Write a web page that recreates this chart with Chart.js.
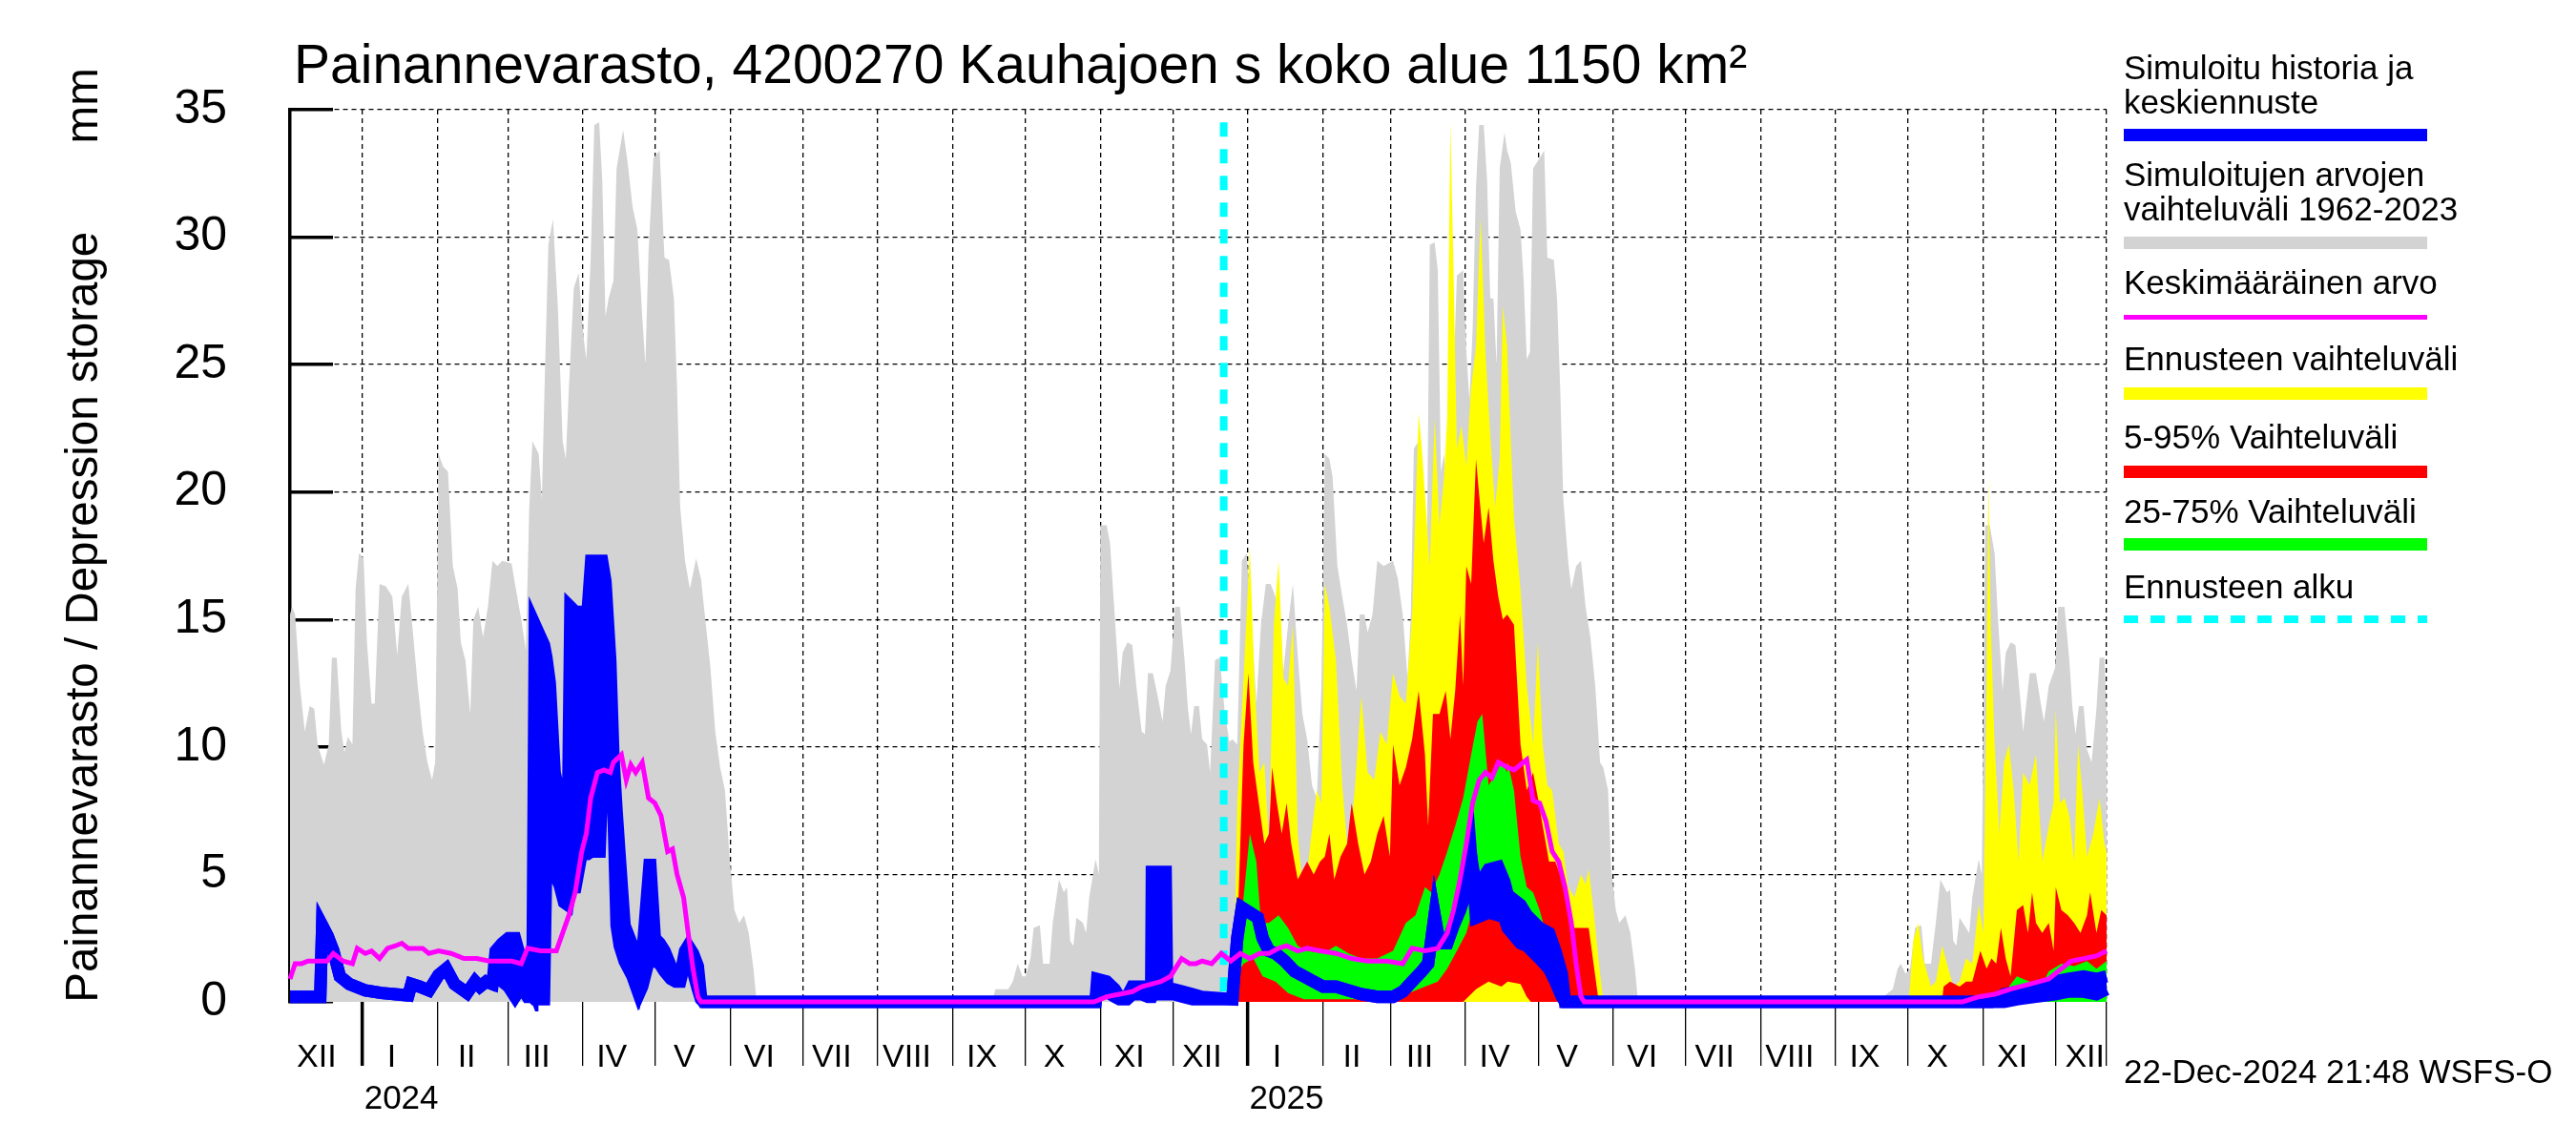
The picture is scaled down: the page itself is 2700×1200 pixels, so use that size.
<!DOCTYPE html>
<html>
<head>
<meta charset="utf-8">
<title>Painannevarasto 4200270</title>
<script src="https://cdn.jsdelivr.net/npm/chart.js@4.4.1/dist/chart.umd.min.js"></script>
<style>
  body { margin: 0; background: #fff; }
  #wrap { position: relative; width: 2700px; height: 1200px; overflow: hidden;
          font-family: 'Liberation Sans', Arial, Helvetica, sans-serif; color: #000; }
  #chart { position: absolute; left: 0; top: 0; }
  .txt { position: absolute; white-space: pre; }
  .lt { left: 2226px; font-size: 35px; line-height: 36px; }
  .bar { position: absolute; left: 2226px; width: 318px; }
</style>
</head>
<body>
<div id="wrap">
  <canvas id="chart" width="2700" height="1200" style="width:2700px;height:1200px"></canvas>
  <div class="txt" style="left:308px;top:39px;font-size:57px;line-height:57px;">Painannevarasto, 4200270 Kauhajoen s koko alue 1150 km²</div>
  <div class="txt" style="left:-414px;top:536px;width:1000px;height:50px;font-size:47.5px;line-height:50px;text-align:center;transform:rotate(-90deg);">Painannevarasto / Depression storage       mm</div>

  <div class="txt lt" style="top:53px">Simuloitu historia ja
keskiennuste</div>
  <div class="bar" style="top:135px;height:13px;background:#0000ff"></div>
  <div class="txt lt" style="top:165px">Simuloitujen arvojen
vaihteluväli 1962-2023</div>
  <div class="bar" style="top:248px;height:13px;background:#d3d3d3"></div>
  <div class="txt lt" style="top:278px">Keskimääräinen arvo</div>
  <div class="bar" style="top:330px;height:5px;background:#ff00ff"></div>
  <div class="txt lt" style="top:358px">Ennusteen vaihteluväli</div>
  <div class="bar" style="top:406px;height:13px;background:#ffff00"></div>
  <div class="txt lt" style="top:440px">5-95% Vaihteluväli</div>
  <div class="bar" style="top:488px;height:13px;background:#ff0000"></div>
  <div class="txt lt" style="top:518px">25-75% Vaihteluväli</div>
  <div class="bar" style="top:564px;height:13px;background:#00ff00"></div>
  <div class="txt lt" style="top:597px">Ennusteen alku</div>
  <div class="bar" style="top:645px;height:8px;background:repeating-linear-gradient(to right,#00ffff 0 15px,transparent 15px 28px)"></div>

  <div class="txt lt" style="top:1105px">22-Dec-2024 21:48 WSFS-O</div>
</div>

<script>
// x values are days counted from 1 Dec 2023
const FONT = "'Liberation Sans', Arial, Helvetica, sans-serif";
const firstDay = 1;
const lastDay = 752;
const forecastStart = 387;

const monthStarts = [0, 31, 62, 91, 122, 152, 183, 213, 244, 275, 305, 336, 366, 397, 428, 456, 487, 517, 548, 578, 609, 640, 670, 701, 731];
const monthLabels = ['XII', 'I', 'II', 'III', 'IV', 'V', 'VI', 'VII', 'VIII', 'IX', 'X', 'XI', 'XII', 'I', 'II', 'III', 'IV', 'V', 'VI', 'VII', 'VIII', 'IX', 'X', 'XI', 'XII'];
const yearStarts = [31, 397];
const yearLabelDays = [47, 413];
const yearLabels = ['2024', '2025'];
const yTicks = [0, 5, 10, 15, 20, 25, 30, 35];

// simulated range 1962-2023 (upper edge, lower edge is 0)
const histMax = [[1,15.2],[1.8,15.5],[3.1,15.2],[5.1,12.4],[7.1,10.6],[9.1,11.6],[11,11.5],[12.4,10.1],[15,9.3],[17,10.1],[18.3,13.5],[20.3,13.5],[22.2,10.6],[23.5,9.8],[24.9,10.4],[26.8,10.1],[28.1,16.2],[29.5,17.6],[31.4,17.4],[32.8,14.1],[34.7,11.7],[36,11.7],[38,16.4],[40.6,16.3],[43.3,15.9],[45.3,13.6],[47.2,15.9],[49.9,16.4],[51.8,14.5],[53.8,12.4],[55.8,10.6],[57.8,9.4],[59.7,8.7],[61,9.4],[62.4,21.5],[64.3,21.0],[66.3,20.8],[68.3,17.1],[70.3,16.2],[71.6,14.1],[73.5,13.4],[75.5,11.3],[76.8,15.0],[78.8,15.5],[80.8,14.3],[82.8,15.5],[84.7,17.3],[86.7,17.1],[88.7,17.3],[92.6,17.2],[94,16.4],[96.6,15.0],[98.5,13.8],[99.9,19.4],[101.2,22.0],[103.8,21.5],[105.1,19.7],[106.4,24.8],[107.8,29.7],[109.7,30.7],[111.7,27.3],[113.7,22.0],[115,21.3],[116.3,24.1],[118.3,28.0],[120.3,28.6],[122.2,26.2],[123.5,25.2],[125.3,29.2],[126.8,34.4],[128.8,34.5],[130.1,32.2],[131.4,26.9],[132.7,27.6],[134.7,28.3],[136,32.7],[138.7,34.2],[140.6,32.9],[142.6,31.2],[144.6,30.3],[146.6,26.9],[147.9,25.0],[149.2,29.4],[151.2,33.1],[153.8,33.4],[155.8,29.2],[157.7,29.1],[159.7,27.6],[161,24.1],[162.3,19.4],[164.3,17.3],[166.3,16.2],[168.9,17.4],[170.9,16.6],[172.9,14.8],[174.8,13.1],[176.8,10.6],[178.8,9.2],[180.8,8.3],[182.7,5.7],[184.7,3.6],[186.7,3.1],[188.7,3.4],[190.6,2.7],[192.6,1.3],[193.9,0],
  [291.3,0],[292.6,0.5],[297.9,0.5],[299.8,0.8],[301.8,1.5],[303.8,1.0],[305.1,1.0],[307.1,1.7],[308.4,2.9],[311,3.0],[312.3,1.5],[315,1.5],[316.3,3.1],[318.9,4.8],[320.9,4.3],[322.2,4.5],[323.5,2.4],[324.8,2.2],[326.1,3.3],[328.8,3.1],[330.1,2.7],[331.4,4.1],[334,5.6],[335.4,5.0],[336,18.7],[338.6,18.7],[340,18.0],[341.9,15.2],[343.9,12.3],[345.2,13.7],[347.2,14.1],[349.2,14.0],[351.1,12.2],[353.1,10.6],[354.4,10.5],[355.7,12.9],[357.7,12.9],[359.7,12.0],[361.7,11.0],[363,12.4],[365,13.0],[366.9,15.5],[368.9,15.5],[370.9,13.3],[372.2,11.5],[373.5,10.5],[374.8,11.6],[376.8,11.6],[378.1,10.3],[380.1,10.1],[381.4,9.0],[383.4,13.4],[385.3,13.5],[387.3,11.5],[389.3,10.2],[390.6,10.3],[392.6,10.1],[394.5,17.3],[396.5,17.6],[398.5,14.8],[400.5,11.7],[402.4,14.8],[404.4,16.4],[406.4,16.4],[408.4,15.9],[410.3,14.2],[411.7,13.0],[413.6,14.8],[415.6,16.4],[417.6,13.6],[419.5,11.3],[421.5,10.3],[423.5,8.5],[425.5,8.0],[427.4,12.4],[428.8,21.5],[430.7,21.3],[432,20.6],[434,17.1],[436,15.9],[438,14.8],[439.9,13.4],[441.9,12.2],[443.2,15.2],[445.2,15.2],[446.5,14.5],[448.5,15.2],[450.5,17.3],[453.1,17.1],[457,17.3],[459,16.6],[461,15.2],[463,12.7],[464.3,15.0],[465.6,21.7],[467.6,22.0],[469.5,20.6],[470.9,16.6],[472.2,29.7],[474.2,29.8],[475.5,28.7],[476.8,20.8],[478.1,21.5],[479.4,19.9],[481.4,22.7],[483.4,28.5],[486,28.7],[487.3,25.5],[488.6,23.6],[489.9,26.4],[491.3,32.0],[492.6,34.4],[494.5,34.4],[495.9,32.2],[497.2,27.6],[498.5,27.6],[499.8,25.0],[501.1,32.7],[503.1,34.1],[504.2,33.4],[505.7,32.9],[507.7,31.0],[509.7,30.3],[511,28.3],[512.3,25.2],[513.6,25.5],[514.9,32.7],[517.6,33.1],[519.5,33.4],[520.8,29.2],[523.5,29.1],[524.8,27.6],[526.1,24.1],[527.4,19.7],[529.4,17.3],[530.7,16.2],[532.7,17.1],[534.7,17.3],[536.6,15.5],[538.6,14.3],[540.6,12.4],[542.6,9.4],[543.9,9.2],[545.9,8.3],[547.2,5.2],[549.1,3.6],[550.5,3.1],[553.1,3.4],[555.1,2.7],[557,1.3],[558.3,0],
  [657,0],[663.6,0.5],[665.6,1.3],[666.9,1.5],[668.9,1.1],[670.8,1.3],[672.8,2.9],[675.4,3.0],[676.8,1.5],[679.4,1.5],[681.4,3.1],[683.3,4.8],[686,4.3],[687.3,4.4],[688.6,2.4],[689.9,2.2],[691.2,3.3],[693.9,2.9],[695.2,2.7],[696.5,4.1],[699.1,5.6],[700.4,5.0],[701.8,18.7],[703.7,18.7],[705.7,17.6],[707,15.2],[709,12.2],[710.3,13.7],[712.3,14.1],[714.3,14.0],[716.2,12.0],[717.5,10.6],[720.2,12.9],[722.8,12.9],[724.8,11.7],[726.1,11.0],[728.1,12.4],[730.7,13.1],[732,15.5],[734.6,15.5],[736.6,13.4],[737.9,11.5],[739.2,10.5],[740.5,11.6],[742.5,11.6],[743.9,9.9],[745.8,9.4],[747.8,11.5],[749.1,13.5],[751.1,13.5],[752,11.3]];

// mean of simulated values
const meanLine = [[1,0.9],[3.1,1.5],[5.8,1.5],[8.4,1.6],[11,1.6],[13.7,1.6],[16.3,1.6],[18.9,1.9],[22.9,1.6],[26.8,1.5],[28.8,2.1],[32.1,1.9],[34.7,2.0],[38,1.7],[41.3,2.1],[44.6,2.2],[47.2,2.3],[49.9,2.1],[53.1,2.1],[55.8,2.1],[58.4,1.9],[62.4,2.0],[67.6,1.9],[72.9,1.7],[78.1,1.7],[83.4,1.6],[88.7,1.6],[92.6,1.6],[96.6,1.5],[99.2,2.1],[104.5,2.0],[111.1,2.0],[113.7,2.7],[116.3,3.4],[118.9,4.3],[121.6,5.9],[123.5,6.6],[125.3,8.0],[128.1,9.0],[130.8,9.1],[133.4,9.0],[134.7,9.4],[138,9.7],[140,8.7],[141.9,9.3],[143.9,9.0],[146.6,9.4],[149.2,8.0],[151.8,7.8],[154.4,7.3],[157.1,5.9],[159.1,6.0],[161,5.0],[163.7,4.1],[165.6,2.7],[167.6,1.3],[169.6,0.2],[170.9,0],[333.4,0],[338.6,0.2],[343.9,0.3],[349.2,0.4],[353.1,0.6],[357.1,0.7],[361,0.8],[365,1.0],[367.6,1.4],[369.6,1.7],[372.9,1.5],[375.5,1.5],[378.1,1.6],[382,1.5],[386,1.9],[389.9,1.6],[393.9,1.9],[397.8,1.7],[401.8,1.9],[405.7,1.9],[409.7,2.1],[413,2.2],[417.6,2.0],[421.5,2.1],[426.8,2.0],[433.4,1.9],[439.9,1.7],[446.5,1.6],[454.4,1.6],[461,1.5],[464.9,2.1],[470.2,2.0],[475.5,2.1],[479.4,2.7],[482,3.6],[484.7,4.8],[487.3,6.2],[489.9,7.8],[492.6,8.7],[495.2,9.0],[497.9,8.8],[500.5,9.4],[504.4,9.2],[507,9.1],[509.7,9.3],[512.3,9.5],[514.9,7.9],[517.6,7.8],[520.2,7.1],[522.8,5.9],[525.5,5.5],[528.1,4.5],[530.7,3.1],[532.7,1.5],[534.7,0.2],[536,0],[692.5,0],[699.1,0.2],[705.7,0.3],[712.3,0.5],[720.2,0.7],[728.1,0.9],[733.3,1.3],[737.3,1.6],[742.5,1.7],[747.8,1.8],[752,2.0]];

// simulated history + median forecast: [day, upper, lower] of the thick blue trace
const simLine = [[1,0.2,0.2],[13.5,0.2,0.2],[14.3,3.0,3.0],[16.5,2.6,2.6],[18.9,2.0,2.0],[21.6,1.0,1.0],[25.5,0.7,0.7],[32.1,0.45,0.45],[38.7,0.35,0.35],[49.9,0.25,0.25],[51.2,0.7,0.7],[54.5,0.6,0.6],[58.4,0.45,0.45],[62.4,1.05,1.05],[65.6,1.3,1.3],[69,0.7,0.7],[74.2,0.35,0.35],[77.5,0.8,0.8],[79.5,0.6,0.6],[82.1,0.8,0.8],[84.7,0.7,0.7],[86,2.0,0.9],[88.7,2.3,0.8],[91.3,2.5,0.6],[94,2.5,0.2],[96.6,1.6,0.6],[99.2,1.1,0.2],[101.2,0.6,0.2],[102.2,14.8,0.1],[106,14.0,0.1],[107,13.5,6.0],[108.4,12.5,5.8],[110.4,9.0,5.0],[112.4,8.1,4.6],[114.3,7.1,3.9],[115.8,6.5,3.8],[116.9,15.5,4.5],[119,15.3,4.5],[121.5,15.3,5.8],[124,15.3,5.8],[125.5,17.3,5.9],[129,17.3,5.9],[130,17.3,8.5],[131.4,16.5,8.3],[133.4,13.4,8.0],[134.7,9.6,7.5],[136,7.5,3.0],[137.3,5.7,2.2],[139.3,3.0,1.6],[142.6,2.2,1.0],[145.2,1.0,0.3],[146.6,1.8,0.6],[149.8,5.6,1.8],[151.8,2.5,1.6],[153.8,2.3,1.5],[155.8,2.0,1.2],[158.4,1.4,0.9],[160.4,1.0,0.8],[162.3,1.0,0.8],[164.3,2.0,1.6],[165.6,2.2,1.8],[167.6,1.9,1.2],[169.6,1.4,0.5],[170.9,0.2,0.1],[172,0,0],[334,0,0],[334.7,0.9,0.5],[338.6,0.8,0.4],[341.9,0.5,0.2],[343.9,0.2,0.1],[347,0.2,0.1],[349.2,0.6,0.3],[353.1,0.6,0.3],[355.7,0.3,0.2],[357,0.3,0.2],[357.3,5.1,0.3],[363,5.1,0.3],[363.6,0.5,0.3],[366.3,0.5,0.3],[370.2,0.4,0.2],[374.2,0.3,0.1],[377.9,0.2,0.1],[390.6,0.1,0.1],[391.3,1.0,1.0],[392.6,2.5,2.5],[394.5,3.7,3.7],[397.8,3.5,3.5],[401.1,3.3,3.3],[403.1,2.5,2.5],[405.7,2.0,2.0],[408.4,1.9,1.9],[412.3,1.6,1.6],[416.3,1.2,1.2],[420.2,1.0,1.0],[424.2,0.8,0.8],[428.1,0.6,0.6],[433.4,0.6,0.6],[438.6,0.45,0.45],[443.9,0.3,0.3],[450.5,0.2,0.2],[457,0.2,0.2],[461,0.4,0.4],[464.9,0.8,0.8],[468.9,1.2,1.2],[471.5,1.5,1.5],[474.2,3.4,3.4],[476.2,2.3,2.3],[479.4,2.3,2.3],[482,3.0,3.0],[484.7,3.6,3.6],[487.3,4.4,4.4],[489.3,5.7,5.7],[491.3,4.5,3.3],[493.9,4.8,3.4],[496.5,5.2,3.5],[500.5,5.3,3.4],[503.1,4.7,3.3],[504.4,4.2,2.9],[509.7,3.8,2.3],[512.3,3.4,2.2],[517.6,2.9,1.7],[521.5,2.7,1.3],[524.1,2.0,0.8],[526.8,1.1,0.2],[528.1,0,0],[704.4,0,0],[709.6,0.3,0.0],[714.9,0.4,0.1],[722.8,0.5,0.2],[730.7,0.8,0.3],[736,0.9,0.4],[742.5,1.0,0.4],[747.8,0.9,0.3],[752,1.0,0.5]];

// forecast ensemble
const fcMax = [[391,0],[392.6,7.8],[394.5,11.3],[397.8,17.8],[399.8,12.4],[401.8,9.0],[403.8,9.4],[405.7,6.2],[407.7,14.8],[409.7,17.3],[411.7,12.7],[413.6,12.4],[415.6,14.8],[417.6,6.6],[420.2,3.8],[422.8,6.2],[425.5,8.3],[427.4,7.8],[428.8,16.4],[430.7,15.5],[433.4,13.4],[436,8.5],[438.6,5.5],[441.3,8.5],[443.9,12.0],[446.5,9.0],[449.2,8.7],[451.8,10.6],[454.4,10.1],[457,12.9],[459.7,12.0],[462.3,11.7],[464.9,15.2],[467.6,23.1],[468.9,21.7],[470.2,19.9],[472.2,17.1],[474.2,22.9],[476.2,18.7],[478.1,20.6],[479.4,22.9],[480.7,34.5],[482,28.7],[483.4,21.7],[485.3,22.6],[487.3,21.0],[489.3,24.1],[491.3,25.7],[493.2,30.8],[495.2,25.5],[497.2,22.2],[499.2,19.4],[501.1,21.3],[502.4,27.3],[504.2,25.7],[504.4,25.0],[507,19.0],[509.7,16.2],[512.3,12.4],[514.9,10.1],[516.9,14.1],[518.9,10.1],[520.8,8.5],[522.8,8.3],[525.5,6.2],[527.4,5.9],[529.4,4.5],[532,4.1],[534.7,5.0],[536.6,4.6],[537.9,5.2],[539.9,3.6],[541.9,1.7],[543.9,0],[670.2,0],[672.1,2.4],[674.1,3.1],[676.1,1.7],[679.4,0.6],[681.4,0.8],[684,2.2],[686,1.5],[688.6,0.6],[691.2,0.8],[693.9,1.7],[696.5,1.5],[699.1,3.8],[701.1,2.7],[702.4,12.4],[703.1,20.6],[704.1,14.8],[705.7,10.1],[707.7,6.6],[709.6,9.4],[711.6,10.1],[713.6,8.3],[715.6,5.5],[717.5,9.0],[720.2,8.5],[722.8,9.7],[725.4,5.5],[728.1,6.9],[730.1,7.8],[731,11.5],[732.7,7.8],[734.6,8.0],[736.6,7.3],[738.6,5.5],[740.2,10.1],[741.9,8.3],[743.9,5.7],[746.5,6.6],[749.1,8.0],[751.1,6.2],[752,5.9]];
const fcP95 = [[391,0],[393.2,4.3],[395.2,10.1],[397.2,12.9],[399.2,9.4],[401.8,7.6],[403.8,6.2],[405.7,6.6],[407,9.2],[409,7.8],[411,6.6],[413,7.8],[414.9,6.2],[417.6,4.8],[421.5,5.5],[424.2,5.0],[426.8,5.5],[428.8,5.7],[430.7,6.6],[432.7,4.8],[435.3,5.7],[438,6.2],[439.9,7.8],[442.6,6.2],[445.2,5.0],[447.8,5.5],[450.5,6.6],[453.1,7.3],[455.7,5.7],[457,10.1],[459.7,8.5],[462.3,9.2],[464.9,10.3],[467.6,12.2],[470.2,9.7],[471.5,6.9],[473.5,11.3],[476.2,11.3],[478.8,12.2],[480.7,10.3],[482.7,12.2],[484.7,15.2],[486,12.4],[487.3,17.1],[489.3,16.4],[491.3,21.3],[492.6,19.9],[494.5,18.0],[496.5,19.4],[498.5,17.3],[500.5,15.9],[502.4,15.0],[504.2,15.2],[507,14.8],[509.7,10.1],[512.3,8.3],[514.9,9.0],[516.9,8.0],[518.9,6.9],[521.5,5.5],[524.1,5.5],[526.8,4.8],[529.4,3.6],[532,2.9],[536,2.9],[537.9,2.9],[539.9,1.5],[541.9,0.1],[542.5,0],[684,0],[684.6,0.6],[687.3,0.8],[691.2,0.6],[693.9,0.8],[696.5,0.8],[699.8,2.0],[702.4,1.3],[704.4,1.7],[706.4,1.5],[708.3,2.9],[710.3,1.7],[712.3,1.0],[714.9,3.6],[717.5,3.8],[719.5,2.7],[721.2,4.3],[722.8,3.1],[725.4,2.7],[728.1,3.1],[730.1,2.0],[731,4.5],[733.3,3.6],[736,3.4],[738.6,3.1],[741.2,2.7],[743.9,3.4],[745.2,4.3],[747.8,2.7],[749.8,3.6],[752,3.4]];
const fcP75 = [[391,0],[393.2,2.2],[395.2,4.1],[397.8,6.6],[400.5,5.5],[402.4,3.1],[405.7,3.1],[409.7,3.4],[413.6,2.9],[417.6,2.2],[421.5,2.0],[428.1,1.9],[433.4,2.2],[438.6,1.9],[443.9,1.7],[450.5,1.7],[457,2.0],[462.3,3.1],[466.3,3.4],[470.2,4.5],[472.8,4.3],[476.2,5.0],[479.4,5.9],[482.7,6.9],[486,8.0],[489.3,9.7],[491.9,11.0],[493.9,11.3],[496.5,8.5],[499.2,8.9],[501.8,9.4],[504.2,9.0],[504.4,9.4],[507,8.3],[509.7,5.7],[512.3,4.5],[514.9,4.3],[517.6,3.6],[520.2,2.7],[524.1,2.4],[526.8,1.5],[528.7,0.6],[530.7,0],[704.4,0],[709.6,0.35],[714.9,1.0],[720.2,0.8],[725.4,0.7],[728.1,1.2],[733.3,1.5],[738.6,1.4],[743.9,1.6],[747.8,1.3],[752,1.6]];
const fcP25 = [[391,0],[393.2,1.2],[395.2,1.5],[399.2,1.7],[403.1,1.0],[408.4,0.8],[413.6,0.35],[420.2,0.1],[457,0.1],[463.6,0.35],[470.2,0.6],[475.5,0.8],[479.4,1.3],[483.4,2.0],[487.3,2.7],[489.9,3.6],[492.6,4.1],[496.5,3.8],[500.5,3.6],[504.2,2.7],[509.7,2.4],[514.9,2.0],[518.9,1.5],[522.8,1.0],[525.5,0.35],[527,0]];
const fcP5 = [[486,0],[491.3,0.5],[496.5,0.8],[501.8,0.6],[504.4,0.8],[509.7,0.7],[512.3,0.2],[514,0]];

function pts(arr, col = 1) {
  return arr.map(p => ({x: p[0], y: p[col]}));
}

// painted from the bottom up, each band filled down to zero
function band(label, arr, color, order) {
  return {
    label: label, data: pts(arr), order: order,
    xAxisID: 'x', yAxisID: 'y',
    borderWidth: 0, borderColor: 'rgba(0,0,0,0)', backgroundColor: color,
    fill: 'origin', pointRadius: 0,
  };
}

function buildDatasets() {
  return [
    band('Simuloitujen arvojen vaihteluväli 1962-2023', histMax, '#d3d3d3', 10),
    {
      label: 'Ennusteen alku', order: 9, xAxisID: 'x', yAxisID: 'y',
      data: [{x: forecastStart, y: 34.5}, {x: forecastStart, y: 0}],
      borderColor: '#00ffff', borderWidth: 8, borderDash: [15, 13], fill: false, pointRadius: 0,
    },
    band('Ennusteen vaihteluväli', fcMax, '#ffff00', 8),
    band('5-95% Vaihteluväli', fcP95, '#ff0000', 7),
    band('25-75% Vaihteluväli', fcP75, '#00ff00', 6),
    band('25%', fcP25, '#ff0000', 5),
    band('5%', fcP5, '#ffff00', 4),
    {
      label: 'sim low', order: 3, xAxisID: 'x', yAxisID: 'y', data: pts(simLine, 2),
      borderColor: '#0000ff', borderWidth: 13, fill: false, pointRadius: 0, clip: 10,
    },
    {
      label: 'Simuloitu historia ja keskiennuste', order: 2, xAxisID: 'x', yAxisID: 'y', data: pts(simLine, 1),
      borderColor: '#0000ff', backgroundColor: '#0000ff', borderWidth: 13, fill: {target: 7}, pointRadius: 0, clip: 10,
    },
    {
      label: 'Keskimääräinen arvo', order: 1, xAxisID: 'x', yAxisID: 'y', data: pts(meanLine),
      borderColor: '#ff00ff', borderWidth: 5, fill: false, pointRadius: 0, clip: 10,
    },
  ];
}

function createChart(ctx) {
  const monthLabelDays = monthStarts.map(d => d + 12);
  return new Chart(ctx, {
    type: 'line',
    data: {datasets: buildDatasets()},
    options: {
      responsive: false,
      animation: false,
      devicePixelRatio: 1,
      layout: {padding: {top: 115, right: 492, left: 0, bottom: 0}},
      elements: {line: {tension: 0}, point: {radius: 0}},
      plugins: {legend: {display: false}, tooltip: {enabled: false}},
      scales: {
        x: {
          type: 'linear', position: 'bottom', min: firstDay, max: lastDay, weight: 0, z: 1,
          afterBuildTicks: s => { s.ticks = monthStarts.filter(d => d > firstDay).concat([lastDay]).map(v => ({value: v})); },
          afterFit: s => { s.height = 20; },
          ticks: {display: false},
          grid: {
            color: '#000', lineWidth: 1.3, drawTicks: true, tickLength: 67, tickColor: '#000',
            tickWidth: c => (c.tick && yearStarts.includes(c.tick.value)) ? 3.5 : 1.3,
          },
          border: {display: false, dash: [5, 4]},
        },
        xm: {
          type: 'linear', position: 'bottom', min: firstDay, max: lastDay, weight: 1,
          afterBuildTicks: s => { s.ticks = monthLabelDays.map(v => ({value: v})); },
          afterFit: s => { s.height = 60; },
          ticks: {
            autoSkip: false, maxRotation: 0, padding: 18, color: '#000',
            font: {size: 34, family: FONT},
            callback: (v, i) => monthLabels[i],
          },
          grid: {display: false, drawTicks: false},
          border: {display: false},
        },
        xy: {
          type: 'linear', position: 'bottom', min: firstDay, max: lastDay, weight: 2,
          afterBuildTicks: s => { s.ticks = yearLabelDays.map(v => ({value: v})); },
          afterFit: s => { s.height = 70; },
          ticks: {
            autoSkip: false, maxRotation: 0, padding: 1, color: '#000',
            font: {size: 35, family: FONT},
            callback: (v, i) => yearLabels[i],
          },
          grid: {display: false, drawTicks: false},
          border: {display: false},
        },
        y: {
          type: 'linear', position: 'left', min: 0, max: 35, z: 1,
          afterBuildTicks: s => { s.ticks = yTicks.map(v => ({value: v})); },
          afterFit: s => {
            s.width = 304;
            // labels may hang over the plot edges, keep the plot box fixed
            s.paddingTop = 0;
            s.paddingBottom = 0;
          },
          ticks: {padding: 111, color: '#000', font: {size: 50, family: FONT}},
          grid: {
            color: c => (c.tick && c.tick.value === 0) ? 'rgba(0,0,0,0)' : '#000',
            lineWidth: 1.3, tickLength: -45, tickWidth: 3.5, tickColor: '#000',
          },
          border: {display: true, color: '#000', width: 3.5, dash: [5, 4]},
        },
      },
    },
  });
}

createChart(document.getElementById('chart').getContext('2d'));
</script>
</body>
</html>
